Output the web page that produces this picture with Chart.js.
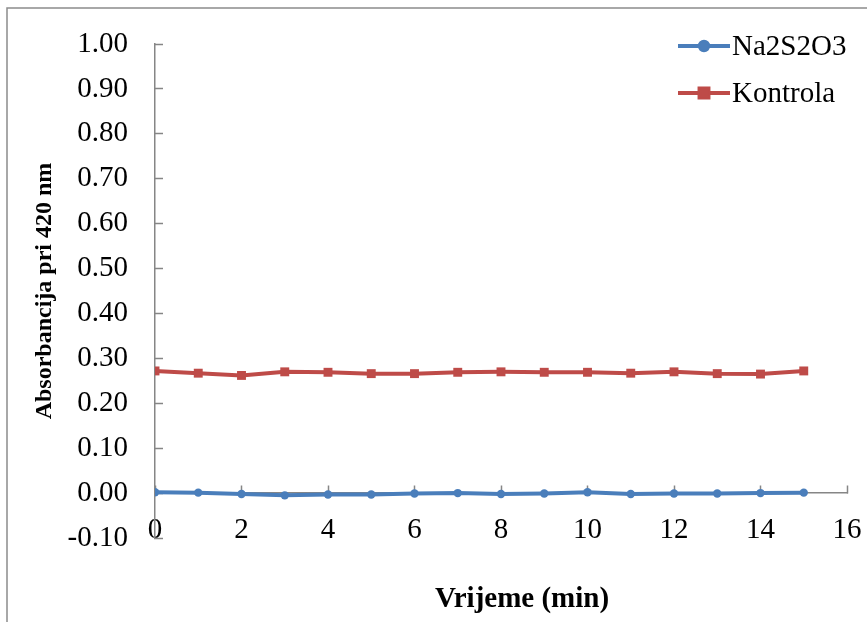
<!DOCTYPE html>
<html>
<head>
<meta charset="utf-8">
<script src="https://cdn.jsdelivr.net/npm/chart.js@4.4.1/dist/chart.umd.min.js"></script>
<style>
  body { margin: 0; background: #fff; }
  canvas { display: block; }
</style>
</head>
<body>
<canvas id="myChart" width="867" height="622"></canvas>
<script>
let minutes = [0, 1, 2, 3, 4, 5, 6, 7, 8, 9, 10, 11, 12, 13, 14, 15];
let na2s2o3 = [0.002, 0.001, -0.002, -0.005, -0.003, -0.003, -0.001, 0.000, -0.002, -0.001, 0.002, -0.002, -0.001, -0.001, 0.000, 0.001];
let kontrola = [0.272, 0.267, 0.262, 0.270, 0.269, 0.266, 0.266, 0.269, 0.270, 0.269, 0.269, 0.267, 0.270, 0.266, 0.265, 0.272];
let seriesNames = ['Na2S2O3', 'Kontrola'];
let colors = ['#4a7ebb', '#be4b48'];

let serif = "'Liberation Serif', 'Times New Roman', serif";
let axisGray = '#868686';

function toPoints(vals) {
    return vals.map((v, i) => ({ x: minutes[i], y: v }));
}

// no automatic label padding, the layout padding decides the plot area
function noPad(scale) {
    scale.paddingLeft = 0;
    scale.paddingRight = 0;
    scale.paddingTop = 0;
    scale.paddingBottom = 0;
}

// outer frame, x-axis title and the legend
let extras = {
    id: 'extras',
    beforeDraw(chart) {
        let ctx = chart.ctx;
        ctx.save();
        ctx.fillStyle = '#fff';
        ctx.fillRect(0, 0, chart.width, chart.height);
        ctx.strokeStyle = '#8c8c8c';
        ctx.lineWidth = 1.5;
        ctx.strokeRect(7, 8, chart.width + 20, chart.height + 20);
        ctx.restore();
    },
    afterDraw(chart) {
        let ctx = chart.ctx;
        let area = chart.chartArea;
        ctx.save();
        ctx.fillStyle = '#000';
        ctx.font = 'bold 29px ' + serif;
        ctx.textAlign = 'center';
        ctx.textBaseline = 'middle';
        ctx.fillText('Vrijeme (min)', area.left + 367, area.bottom + 62);

        ctx.font = '29px ' + serif;
        ctx.textAlign = 'left';
        chart.data.datasets.forEach((ds, i) => {
            let y = 46 + i * 47;
            ctx.strokeStyle = ds.borderColor;
            ctx.lineWidth = ds.borderWidth;
            ctx.beginPath();
            ctx.moveTo(678, y);
            ctx.lineTo(730, y);
            ctx.stroke();
            Chart.helpers.drawPoint(ctx, {
                pointStyle: ds.pointStyle,
                radius: ds.pointRadius,
                borderWidth: 1
            }, 704, y);
            ctx.fillStyle = ds.backgroundColor;
            ctx.fill();
            ctx.fillStyle = '#000';
            ctx.fillText(ds.label, 732, y + 1);
        });
        ctx.restore();
    }
};

let myChart = document.getElementById('myChart').getContext('2d');
let chart = new Chart(myChart, {
    type: 'line',
    data: {
        datasets: [{
            label: seriesNames[0],
            data: toPoints(na2s2o3),
            borderColor: colors[0],
            backgroundColor: colors[0],
            borderWidth: 4,
            pointStyle: 'circle',
            pointRadius: 4.2,
            pointBorderWidth: 0,
            tension: 0
        }, {
            label: seriesNames[1],
            data: toPoints(kontrola),
            borderColor: colors[1],
            backgroundColor: colors[1],
            borderWidth: 4,
            pointStyle: 'rect',
            pointRadius: 6.3,
            pointBorderWidth: 0,
            tension: 0
        }]
    },
    options: {
        responsive: false,
        animation: false,
        devicePixelRatio: 1,
        layout: {
            padding: { left: 0, top: 44, right: 20, bottom: 84 }
        },
        plugins: {
            legend: { display: false },
            tooltip: { enabled: false }
        },
        scales: {
            x: {
                type: 'linear',
                position: { y: 0 },
                min: 0,
                max: 16,
                ticks: {
                    stepSize: 2,
                    padding: 28,
                    color: '#000',
                    font: { family: serif, size: 29 },
                    maxRotation: 0
                },
                grid: {
                    drawOnChartArea: false,
                    drawTicks: true,
                    tickLength: -8,
                    tickWidth: 1.5,
                    tickColor: axisGray
                },
                border: { color: axisGray, width: 1.5 },
                title: { display: false },
                afterFit: noPad
            },
            y: {
                position: 'left',
                min: -0.1,
                max: 1.0,
                ticks: {
                    stepSize: 0.1,
                    padding: 35,
                    color: '#000',
                    font: { family: serif, size: 29 },
                    callback: (v) => v.toFixed(2)
                },
                grid: {
                    drawOnChartArea: false,
                    drawTicks: true,
                    tickLength: -8,
                    tickWidth: 1.5,
                    tickColor: axisGray
                },
                border: { color: axisGray, width: 1.5 },
                title: {
                    display: true,
                    text: 'Absorbancija pri 420 nm',
                    color: '#000',
                    font: { family: serif, size: 24, weight: 'bold' },
                    padding: { top: 30, bottom: 0 }
                },
                afterFit: (scale) => {
                    noPad(scale);
                    scale.width = 155;
                }
            }
        }
    },
    plugins: [extras]
});
</script>
</body>
</html>
